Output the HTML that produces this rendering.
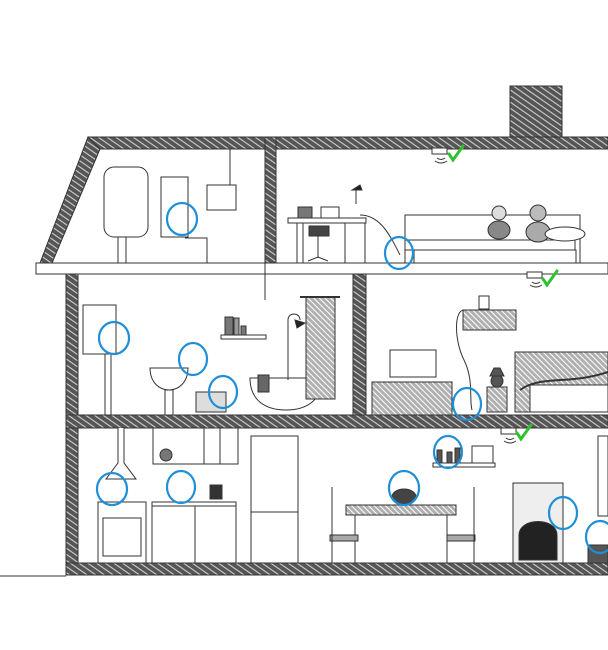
<!DOCTYPE html>
<html><head><meta charset="utf-8"><style>
html,body{margin:0;padding:0;background:#fff;width:608px;height:650px;overflow:hidden}
svg{display:block}
</style></head><body>
<svg width="608" height="650" viewBox="0 0 608 650" xmlns="http://www.w3.org/2000/svg">
<defs>
<pattern id="h" width="5" height="5" patternUnits="userSpaceOnUse" patternTransform="rotate(35)">
<rect width="5" height="5" fill="#555"/><line x1="0" y1="1" x2="5" y2="1" stroke="#cfcfcf" stroke-width="1.1"/>
</pattern>
<pattern id="h2" width="4" height="4" patternUnits="userSpaceOnUse" patternTransform="rotate(45)">
<rect width="4" height="4" fill="#b0b0b0"/><line x1="0" y1="1" x2="4" y2="1" stroke="#fff" stroke-width="1"/>
</pattern>
</defs>
<g stroke="#333" stroke-width="1" fill="none">
<rect x="510" y="86" width="52" height="51" fill="url(#h)"/>
<polygon points="88,137 608,137 608,149 84,149" fill="url(#h)"/>
<polygon points="88,137 100,149 52,263 40,263" fill="url(#h)"/>
<rect x="265" y="137" width="11" height="126" fill="url(#h)"/>
<rect x="36" y="263" width="572" height="11" fill="#fff"/>
<line x1="265" y1="263" x2="265" y2="300"/>
<rect x="66" y="274" width="12" height="301" fill="url(#h)"/>
<rect x="353" y="274" width="13" height="141" fill="url(#h)"/>
<rect x="66" y="415" width="542" height="13" fill="url(#h)"/>
<rect x="66" y="563" width="542" height="12" fill="url(#h)"/>
<line x1="0" y1="576" x2="66" y2="576"/>

<rect x="104" y="167" width="44" height="70" rx="10" fill="#fff"/>
<line x1="118" y1="237" x2="118" y2="263"/><line x1="126" y1="237" x2="126" y2="263"/>
<rect x="161" y="177" width="27" height="60" fill="#fff"/>
<rect x="207" y="185" width="29" height="25" fill="#fff"/>
<line x1="230" y1="149" x2="230" y2="185"/>
<polyline points="185,238 207,238 207,263"/>
<rect x="288" y="218" width="78" height="5" fill="#fff"/>
<rect x="297" y="223" width="6" height="40"/>
<rect x="345" y="223" width="20" height="40"/>
<rect x="298" y="207" width="14" height="11" fill="#777"/>
<rect x="321" y="207" width="18" height="11" fill="#fff"/>
<line x1="356" y1="204" x2="356" y2="190"/><path d="M352,190 l8,-5 l2,5z" fill="#222"/>
<rect x="309" y="226" width="20" height="10" fill="#444"/>
<line x1="318" y1="236" x2="318" y2="258"/>
<path d="M308,261 l10,-4 l10,4" />
<path d="M360,215 c20,0 30,20 40,40"/>
<ellipse cx="440" cy="252" rx="10" ry="7" fill="#555"/>
<ellipse cx="418" cy="252" rx="5" ry="7" fill="#333"/>
<rect x="405" y="215" width="175" height="48" fill="#fff"/>
<rect x="405" y="240" width="170" height="10" fill="#fff"/>
<rect x="414" y="250" width="162" height="13"/>
<circle cx="499" cy="213" r="7" fill="#ddd"/>
<ellipse cx="499" cy="230" rx="11" ry="9" fill="#888"/>
<circle cx="538" cy="213" r="8" fill="#bbb"/>
<ellipse cx="538" cy="232" rx="12" ry="10" fill="#aaa"/>
<ellipse cx="565" cy="234" rx="20" ry="7" fill="#fff"/>

<rect x="83" y="305" width="33" height="49" fill="#fff"/>
<line x1="105" y1="354" x2="105" y2="415"/><line x1="111" y1="354" x2="111" y2="415"/>
<path d="M150,368 h38 c0,15 -10,22 -19,22 c-9,0 -19,-7 -19,-22z" fill="#fff"/>
<rect x="165" y="390" width="8" height="25"/>
<rect x="196" y="392" width="30" height="20" fill="#ddd"/>
<rect x="221" y="335" width="45" height="4" fill="#fff"/>
<rect x="225" y="317" width="8" height="18" fill="#777"/><rect x="234" y="318" width="5" height="17" fill="#999"/><rect x="241" y="326" width="5" height="9" fill="#777"/>
<path d="M250,378 h72 c0,22 -15,32 -36,32 c-21,0 -36,-10 -36,-32z" fill="#fff"/>
<rect x="258" y="375" width="11" height="17" fill="#666"/>
<path d="M288,380 v-60 c0,-8 12,-8 12,0" /><path d="M295,320 l10,3 l-8,5z" fill="#222"/>
<rect x="306" y="297" width="29" height="102" fill="url(#h2)"/>
<line x1="300" y1="297" x2="340" y2="297" stroke-width="2"/>

<rect x="390" y="350" width="46" height="27" fill="#fff"/>
<rect x="372" y="382" width="80" height="33" fill="url(#h2)"/>
<rect x="463" y="310" width="53" height="20" fill="url(#h2)"/>
<rect x="479" y="296" width="10" height="13" fill="#fff"/>
<path d="M464,310 c-10,0 -10,30 0,50 c10,20 5,40 8,50"/>
<rect x="487" y="387" width="20" height="25" fill="url(#h2)"/>
<ellipse cx="497" cy="381" rx="6" ry="6" fill="#555"/><path d="M490,376 l4,-8 h6 l4,8z" fill="#555"/>
<rect x="515" y="352" width="93" height="60" fill="url(#h2)"/>
<rect x="530" y="385" width="78" height="27" fill="#fff"/>
<path d="M520,390 c20,-15 50,-5 88,-18" stroke-width="2"/>

<path d="M118,428 v35 l-12,16 h30 l-12,-16 v-35" fill="#fff"/>
<rect x="153" y="428" width="85" height="36" fill="#fff"/>
<line x1="204" y1="428" x2="204" y2="464"/><line x1="220" y1="428" x2="220" y2="464"/>
<circle cx="166" cy="455" r="6" fill="#777"/>
<rect x="98" y="502" width="48" height="61" fill="#fff"/>
<rect x="103" y="518" width="38" height="38" fill="#fff"/>
<rect x="152" y="502" width="84" height="61" fill="#fff"/>
<line x1="152" y1="506" x2="236" y2="506"/><line x1="195" y1="506" x2="195" y2="563"/>
<rect x="251" y="436" width="47" height="127" fill="#fff"/>
<line x1="251" y1="512" x2="298" y2="512"/>
<rect x="210" y="485" width="12" height="14" fill="#333"/>
<rect x="346" y="505" width="110" height="10" fill="url(#h2)"/>
<line x1="355" y1="515" x2="355" y2="563"/><line x1="447" y1="515" x2="447" y2="563"/>
<rect x="330" y="535" width="28" height="6" fill="#aaa"/><line x1="332" y1="487" x2="332" y2="563"/>
<rect x="447" y="535" width="28" height="6" fill="#aaa"/><line x1="474" y1="487" x2="474" y2="563"/>
<ellipse cx="404" cy="497" rx="12" ry="8" fill="#444"/>
<rect x="433" y="463" width="62" height="4" fill="#fff"/>
<rect x="472" y="446" width="21" height="17" fill="#fff"/>
<rect x="437" y="450" width="5" height="13" fill="#555"/><rect x="447" y="452" width="5" height="11" fill="#555"/><rect x="455" y="448" width="5" height="15" fill="#555"/>
<rect x="513" y="483" width="50" height="80" fill="#eee"/>
<path d="M519,560 v-25 c0,-18 38,-18 38,0 v25z" fill="#222"/>
<rect x="598" y="436" width="10" height="80" fill="#fff"/>
<rect x="588" y="545" width="20" height="18" fill="#555"/>
</g>

<g stroke="#333" fill="#fff" stroke-width="1">
<rect x="432" y="148" width="15" height="6"/><rect x="527" y="272" width="15" height="6"/><rect x="501" y="428" width="15" height="6"/>
</g>
<g stroke="#333" fill="none" stroke-width="1">
<path d="M437,158 q4,3 8,0 M435,161 q6,4 12,0"/>
<path d="M532,282 q4,3 8,0 M530,285 q6,4 12,0"/>
<path d="M506,438 q4,3 8,0 M504,441 q6,4 12,0"/>
</g>
<g stroke="#2fc12f" stroke-width="3" fill="none" stroke-linecap="round">
<path d="M449,154 l4,6 l10,-14"/>
<path d="M543,279 l4,6 l10,-14"/>
<path d="M517,433 l4,6 l10,-14"/>
</g>
<g stroke="#1f8fd8" stroke-width="2.2" fill="none">
<ellipse cx="182" cy="219" rx="15" ry="16"/>
<ellipse cx="399" cy="253" rx="14" ry="16"/>
<ellipse cx="114" cy="338" rx="15" ry="16"/>
<ellipse cx="193" cy="359" rx="14" ry="16"/>
<ellipse cx="223" cy="392" rx="14" ry="16"/>
<ellipse cx="467" cy="404" rx="14" ry="16"/>
<ellipse cx="448" cy="452" rx="14" ry="16"/>
<ellipse cx="112" cy="489" rx="15" ry="16"/>
<ellipse cx="181" cy="487" rx="14" ry="16"/>
<ellipse cx="404" cy="488" rx="15" ry="17"/>
<ellipse cx="563" cy="513" rx="14" ry="16"/>
<ellipse cx="600" cy="537" rx="14" ry="16"/>
</g>
</svg>
</body></html>
